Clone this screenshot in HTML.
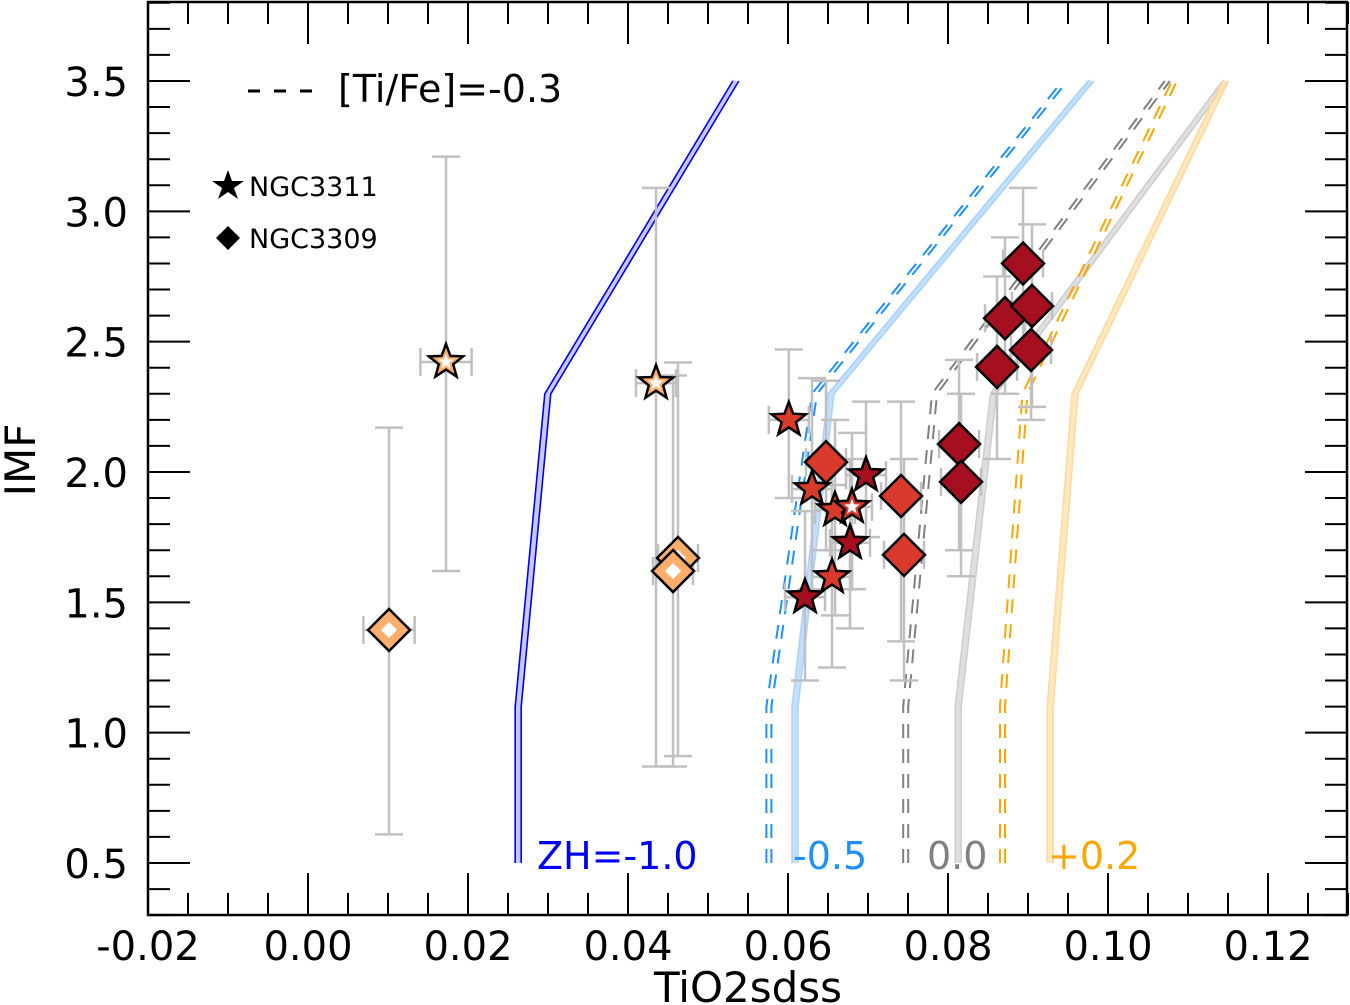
<!DOCTYPE html>
<html><head><meta charset="utf-8"><style>
html,body{margin:0;padding:0;background:#fff}
svg{display:block;font-family:"DejaVu Sans","Liberation Sans",sans-serif}
</style></head><body>
<svg id="chart" width="1350" height="1005" viewBox="0 0 1350 1005" xmlns="http://www.w3.org/2000/svg">
<g id="models"></g>
<g id="errs"></g>
<g id="pts"></g>
<g id="axes"></g>
<g>
<line x1="248" y1="91" x2="318" y2="91" stroke="#000" stroke-width="3" stroke-dasharray="12,14"/>
<text x="338" y="102" font-size="38">[Ti/Fe]=-0.3</text>
<polygon points="228,170 232,181 244,181 234,188 238,199 228,192 218,199 222,188 212,181 224,181" fill="#000"/>
<text x="249" y="196" font-size="27">NGC3311</text>
<polygon points="228,226 240,238 228,250 216,238" fill="#000"/>
<text x="249" y="248" font-size="27">NGC3309</text>
</g>
<g font-size="38">
<text x="537" y="869" fill="#0000ee">ZH=-1.0</text>
<text x="793" y="869" fill="#1e90ff">-0.5</text>
<text x="927" y="869" fill="#808080">0.0</text>
<text x="1048" y="869" fill="#ffa500">+0.2</text>
</g>
<text x="748" y="1002" font-size="42" text-anchor="middle">TiO2sdss</text>
<text transform="translate(35,460) rotate(-90)" font-size="42" text-anchor="middle">IMF</text>
</svg>
<script>
const imfGrid=[0.5,1.1,2.3,3.5];
const zhM10=[0.0259,0.0259,0.0296,0.0531];
const zhM05=[0.0605,0.0605,0.065,0.0975];
const zhM05ti=[0.0573,0.0573,0.063,0.0943];
const zh00=[0.0809,0.0809,0.0853,0.1143];
const zh00ti=[0.0744,0.0744,0.078,0.1071];
const zhP02=[0.0924,0.0924,0.0955,0.1143];
const zhP02ti=[0.0865,0.0865,0.0893,0.108];
const starX=[0.01725,0.0435,0.0601,0.063,0.06975,0.06588,0.068,0.06775,0.0655,0.06213];
const starY=[2.422,2.341,2.20,1.935,1.988,1.854,1.866,1.728,1.597,1.520];
const starYlo=[1.62,0.87,1.90,1.55,1.75,1.45,1.55,1.40,1.25,1.20];
const starYhi=[3.21,3.09,2.47,2.36,2.27,2.20,2.15,2.05,1.95,1.85];
const starXerr=[0.0032,0.0025,0.0025,0.0025,0.0025,0.0025,0.0025,0.0025,0.0025,0.0025];
const starTone=[0,0,1,1,2,1,1,2,1,2];
const diaX=[0.01013,0.04625,0.04563,0.06475,0.07413,0.0745,0.08138,0.08163,0.08938,0.08713,0.0905,0.08613,0.09038];
const diaY=[1.394,1.670,1.620,2.038,1.908,1.682,2.107,1.962,2.80,2.59,2.637,2.403,2.468];
const diaYlo=[0.61,0.91,0.87,1.70,1.35,1.20,1.70,1.60,2.45,2.30,2.25,2.05,2.20];
const diaYhi=[2.17,2.42,2.37,2.35,2.27,2.05,2.43,2.30,3.09,2.90,2.95,2.75,2.65];
const diaXerr=[0.0032,0.0025,0.0025,0.0025,0.0025,0.0025,0.0025,0.0025,0.0025,0.0025,0.0025,0.0025,0.0025];
const diaTone=[0,0,0,1,1,1,2,2,2,2,2,2,2];
const xTicks=[-0.02,0.00,0.02,0.04,0.06,0.08,0.10,0.12];
const xTickLabels=["-0.02","0.00","0.02","0.04","0.06","0.08","0.10","0.12"];
const yTicks=[0.5,1.0,1.5,2.0,2.5,3.0,3.5];
const yTickLabels=["0.5","1.0","1.5","2.0","2.5","3.0","3.5"];

const L=148,R=1347,T=2,B=915;
const sx=v=>L+(v+0.02)*8000;
const sy=v=>863-(v-0.5)*260.67;
const NS='http://www.w3.org/2000/svg';
function mk(tag,parent,attrs){const e=document.createElementNS(NS,tag);for(const k in attrs)e.setAttribute(k,attrs[k]);parent.appendChild(e);return e;}
const gm=document.getElementById('models'),ge=document.getElementById('errs'),gp=document.getElementById('pts'),ga=document.getElementById('axes');
function pts(xs,dx){return xs.map((x,i)=>(sx(x)+dx)+','+sy(imfGrid[i])).join(' ');}
function band(xs,name,fill,edge,op){
  const b=mk('polyline',gm,{points:pts(xs,3),fill:'none',stroke:fill,'stroke-width':6,opacity:op});
  
  
  [0,6].forEach(dx=>{const l=mk('polyline',gm,{points:pts(xs,dx),fill:'none',stroke:edge,'stroke-width':1.6,opacity:op});
    
    });
}
function dashed(xs,name,col){
  [0,5].forEach(dx=>{const l=mk('polyline',gm,{points:pts(xs,dx),fill:'none',stroke:col,'stroke-width':2,'stroke-dasharray':'14,11'});
    
    });
}
band(zhM10,'model-zh-m1.0','#c8c8f4','#0000ee',1);
band(zhM05,'model-zh-m0.5','#bcdcff','#a8d0ff',0.9);
band(zh00,'model-zh-0.0','#dcdcdc','#cccccc',0.9);
band(zhP02,'model-zh-p0.2','#ffe2b0','#ffd490',0.8);
dashed(zhM05ti,'model-zh-m0.5-tife','#1e90ff');
dashed(zh00ti,'model-zh-0.0-tife','#808080');
dashed(zhP02ti,'model-zh-p0.2-tife','#ffa500');

const tones=['#fdae6b','#d93a2b','#a50f20'];
function err(x,y,lo,hi,xe,name){
  const c='#c0c0c0',w=2.5,px=sx(x),py=sy(y);
  const a=mk('line',ge,{x1:px,x2:px,y1:sy(lo),y2:sy(hi),stroke:c,'stroke-width':w});
  
  
  [lo,hi].forEach(v=>{const cap=mk('line',ge,{x1:px-14,x2:px+14,y1:sy(v),y2:sy(v),stroke:c,'stroke-width':w});
    
    });
  const b=mk('line',ge,{x1:sx(x-xe),x2:sx(x+xe),y1:py,y2:py,stroke:c,'stroke-width':w});
  
  
  [x-xe,x+xe].forEach(v=>{const cap=mk('line',ge,{x1:sx(v),x2:sx(v),y1:py-14,y2:py+14,stroke:c,'stroke-width':w});
    
    });
}
function starPts(cx,cy,r){let s=[];for(let i=0;i<10;i++){const rr=i%2?r*0.42:r,a=-Math.PI/2+i*Math.PI/5;s.push((cx+rr*Math.cos(a)).toFixed(1)+','+(cy+rr*Math.sin(a)).toFixed(1));}return s.join(' ');}
starX.forEach((x,i)=>err(x,starY[i],starYlo[i],starYhi[i],starXerr[i],'star-'+i));
diaX.forEach((x,i)=>err(x,diaY[i],diaYlo[i],diaYhi[i],diaXerr[i],'diamond-'+i));
diaX.forEach((x,i)=>{
  const px=sx(x),py=sy(diaY[i]),r=21;
  const d=mk('polygon',gp,{points:`${px},${py-r} ${px+r},${py} ${px},${py+r} ${px-r},${py}`,fill:tones[diaTone[i]],stroke:'#000','stroke-width':2.5});
  
  
  if(diaTone[i]===0){const w=mk('polygon',gp,{points:`${px},${py-8} ${px+8},${py} ${px},${py+8} ${px-8},${py}`,fill:'#fff'});
    
    }
});
starX.forEach((x,i)=>{
  const px=sx(x),py=sy(starY[i]);
  const s=mk('polygon',gp,{points:starPts(px,py,18),fill:tones[starTone[i]],stroke:'#000','stroke-width':2.5});
  
  
  if(starTone[i]===0||i===6){const w=mk('polygon',gp,{points:starPts(px,py,8),fill:'#fff'});
    
    }
});

const fr=mk('rect',ga,{x:L,y:T,width:R-L,height:B-T,fill:'none',stroke:'#000','stroke-width':2.5});


for(let k=-4;k<=30;k++){const v=k*0.005;const px=sx(v);if(px<L-1||px>R+1)continue;const major=k%4===0;const len=major?42:22;
  [[B,B-len],[T,T+len]].forEach(([a,b])=>{const t=mk('line',ga,{x1:px,x2:px,y1:a,y2:b,stroke:'#000','stroke-width':2});
    
    });}
for(let k=3;k<=38;k++){const v=k*0.1;const py=sy(v);if(py<T-1||py>B+1)continue;const major=k%5===0;const len=major?42:22;
  [[L,L+len],[R,R-len]].forEach(([a,b])=>{const t=mk('line',ga,{x1:a,x2:b,y1:py,y2:py,stroke:'#000','stroke-width':2});
    
    });}
xTicks.forEach((v,i)=>{const t=mk('text',ga,{x:sx(v),y:960,'font-size':40,'text-anchor':'middle'});t.textContent=xTickLabels[i];
  
  });
yTicks.forEach((v,i)=>{const t=mk('text',ga,{x:128,y:sy(v)+15,'font-size':40,'text-anchor':'end'});t.textContent=yTickLabels[i];
  
  });
</script>
</body></html>
